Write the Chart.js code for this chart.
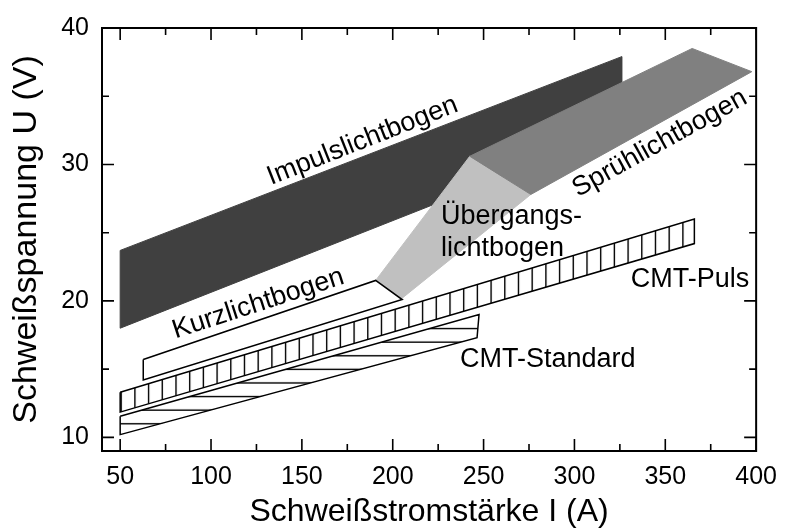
<!DOCTYPE html>
<html>
<head>
<meta charset="utf-8">
<script src="https://cdn.jsdelivr.net/npm/chart.js@4/dist/chart.umd.min.js"></script>
<style>
html,body{margin:0;padding:0;background:#ffffff;}
#wrap{width:788px;height:528px;}
</style>
</head>
<body>
<div id="wrap"><canvas id="c" width="788" height="528"></canvas></div>
<script>
// ---- tick labels ----
const xTicks = [50, 100, 150, 200, 250, 300, 350, 400];
const yTicks = [10, 20, 30, 40];

// ---- regions (current I in A, voltage U in V), polygon vertices ----
const impulsI = [50, 50, 326, 326];
const impulsU = [18.0, 23.7, 37.9, 32.5];

const uebergangI = [190.6, 242.4, 276.0, 205.2];
const uebergangU = [21.5, 30.6, 27.8, 20.2];

const spruehI = [242.4, 364.8, 397.6, 276.0];
const spruehU = [30.6, 38.5, 36.8, 27.8];

const kurzI = [62.7, 190.6, 205.2, 62.7];
const kurzU = [15.7, 21.5, 20.1, 14.2];

const pulsI = [50, 366, 366, 50];
const pulsU = [13.3, 26.0, 24.2, 11.85];

const standardI = [50, 247.5, 246.4, 50];
const standardU = [11.55, 19.0, 17.3, 10.2];

// ---- region labels ----
const labelText = ['Impulslichtbogen', 'Sprühlichtbogen', 'Kurzlichtbogen', 'Übergangs-', 'lichtbogen', 'CMT-Puls', 'CMT-Standard'];
const labelI = [133.0, 302.0, 80.5, 226.5, 226.5, 331.0, 237.0];
const labelU = [28.5, 27.6, 17.25, 25.63, 23.31, 21.04, 15.14];
const labelAngle = [21.5, 29, 18, 0, 0, 0, 0];

// ---- hatch styles ----
const HATCH_V_START = 58.1, HATCH_V_STEP = 7.53;  // vertical lines (A)
const HATCH_H_START = 11, HATCH_H_STEP = 1;       // horizontal lines (V)

const FONT = '"Liberation Sans", Arial, Helvetica, sans-serif';
Chart.defaults.font.family = FONT;
Chart.defaults.color = '#000000';

function poly(I, U, close) {
  const pts = I.map((v, i) => ({x: v, y: U[i]}));
  if (close) pts.push({x: I[0], y: U[0]});
  return pts;
}

const patCache = {};
function hatch(chart, dir) {
  const xs = chart.scales && chart.scales.x, ys = chart.scales && chart.scales.y;
  const a = chart.chartArea;
  if (!a || !xs || !ys) return '#ffffff';
  const key = dir + '|' + a.left + '|' + a.top + '|' + a.right + '|' + a.bottom;
  if (patCache[key]) return patCache[key];
  const c = document.createElement('canvas');
  const g = c.getContext('2d');
  let p;
  if (dir === 'v') {
    const step = Math.abs(xs.getPixelForValue(HATCH_V_START + HATCH_V_STEP) - xs.getPixelForValue(HATCH_V_START));
    const W = Math.round(step * 10);
    c.width = W; c.height = 8;
    g.fillStyle = '#ffffff'; g.fillRect(0, 0, W, 8);
    g.fillStyle = '#000000';
    for (let k = 0; k < 10; k++) { const cx = (k + 0.5) * W / 10; g.fillRect(cx - 0.7, 0, 1.4, 8); }
    p = chart.ctx.createPattern(c, 'repeat');
    const off = xs.getPixelForValue(HATCH_V_START) - 0.5 * W / 10;
    const t = ((off % W) + W) % W;
    p.setTransform(new DOMMatrix().translate(t, 0));
  } else {
    const step = Math.abs(ys.getPixelForValue(HATCH_H_START + HATCH_H_STEP) - ys.getPixelForValue(HATCH_H_START));
    const H = Math.round(step * 10);
    c.width = 8; c.height = H;
    g.fillStyle = '#ffffff'; g.fillRect(0, 0, 8, H);
    g.fillStyle = '#000000';
    for (let k = 0; k < 10; k++) { const cy = (k + 0.5) * H / 10; g.fillRect(0, cy - 0.7, 8, 1.4); }
    p = chart.ctx.createPattern(c, 'repeat');
    const off = ys.getPixelForValue(HATCH_H_START) - 0.5 * H / 10;
    const t = ((off % H) + H) % H;
    p.setTransform(new DOMMatrix().translate(0, t));
  }
  patCache[key] = p;
  return p;
}

const decor = {
  id: 'decor',
  afterDatasetsDraw(chart) {
    const {ctx, chartArea: a, scales: {x, y}} = chart;
    ctx.save();
    // labels
    ctx.fillStyle = '#000000';
    ctx.font = '27px ' + FONT;
    ctx.textAlign = 'left';
    ctx.textBaseline = 'alphabetic';
    labelText.forEach((t, i) => {
      ctx.save();
      ctx.translate(x.getPixelForValue(labelI[i]), y.getPixelForValue(labelU[i]));
      ctx.rotate(-labelAngle[i] * Math.PI / 180);
      ctx.fillText(t, 0, 0);
      ctx.restore();
    });
    // frame
    ctx.strokeStyle = '#000000';
    ctx.lineWidth = 2;
    ctx.strokeRect(a.left, a.top, a.right - a.left, a.bottom - a.top);
    // ticks (inward, all four sides)
    ctx.lineWidth = 1.6;
    const minorX = xTicks.slice(0, -1).map((v, i) => (v + xTicks[i + 1]) / 2);
    const minorY = yTicks.slice(0, -1).map((v, i) => (v + yTicks[i + 1]) / 2);
    const drawX = (vals, len) => vals.forEach(v => {
      const px = x.getPixelForValue(v);
      ctx.beginPath();
      ctx.moveTo(px, a.bottom); ctx.lineTo(px, a.bottom - len);
      ctx.moveTo(px, a.top); ctx.lineTo(px, a.top + len);
      ctx.stroke();
    });
    const drawY = (vals, len) => vals.forEach(v => {
      const py = y.getPixelForValue(v);
      ctx.beginPath();
      ctx.moveTo(a.left, py); ctx.lineTo(a.left + len, py);
      ctx.moveTo(a.right, py); ctx.lineTo(a.right - len, py);
      ctx.stroke();
    });
    drawX(xTicks, 12); drawX(minorX, 7);
    drawY(yTicks, 12); drawY(minorY, 7);
    ctx.restore();
  }
};

const base = {type: 'scatter', showLine: true, pointRadius: 0, pointHoverRadius: 0, tension: 0, fill: 'shape'};

const chart = new Chart(document.getElementById('c'), {
  type: 'scatter',
  data: {
    datasets: [
      Object.assign({}, base, {label: 'Impulslichtbogen', data: poly(impulsI, impulsU, true), backgroundColor: '#404040', borderColor: '#404040', borderWidth: 1, order: 6}),
      Object.assign({}, base, {label: 'Übergangslichtbogen', data: poly(uebergangI, uebergangU, true), backgroundColor: '#c0c0c0', borderColor: '#c0c0c0', borderWidth: 1, order: 5}),
      Object.assign({}, base, {label: 'Sprühlichtbogen', data: poly(spruehI, spruehU, true), backgroundColor: '#808080', borderColor: '#808080', borderWidth: 1, order: 4}),
      Object.assign({}, base, {label: 'Kurzlichtbogen', data: poly(kurzI, kurzU, true), backgroundColor: '#ffffff', borderColor: '#000000', borderWidth: 1.5, order: 3}),
      Object.assign({}, base, {label: 'CMT-Puls', data: poly(pulsI, pulsU, true), backgroundColor: (c) => hatch(c.chart, 'v'), borderColor: '#000000', borderWidth: 1.5, order: 2}),
      Object.assign({}, base, {label: 'CMT-Standard', data: poly(standardI, standardU, true), backgroundColor: (c) => hatch(c.chart, 'h'), borderColor: '#000000', borderWidth: 1.5, order: 1})
    ]
  },
  options: {
    responsive: false,
    animation: false,
    devicePixelRatio: 1,
    layout: {padding: {left: 0, right: 25, top: 27, bottom: 0}},
    plugins: {legend: {display: false}, tooltip: {enabled: false}},
    events: [],
    scales: {
      x: {
        type: 'linear', position: 'bottom', min: 40, max: 400,
        afterBuildTicks: (s) => { s.ticks = xTicks.map(v => ({value: v})); },
        afterFit: (s) => { s.height = 77; },
        grid: {display: false, drawTicks: false},
        border: {display: false},
        ticks: {font: {size: 25}, color: '#000000', padding: 11, autoSkip: false, maxRotation: 0, minRotation: 0},
        title: {display: true, text: 'Schweißstromstärke I (A)', font: {size: 32, lineHeight: 1}, color: '#000000', padding: {top: 0, bottom: 0}}
      },
      y: {
        type: 'linear', position: 'left', min: 9, max: 40,
        afterBuildTicks: (s) => { s.ticks = yTicks.map(v => ({value: v})); },
        afterFit: (s) => { s.width = 102; },
        grid: {display: false, drawTicks: false},
        border: {display: false},
        ticks: {font: {size: 25}, color: '#000000', padding: 13, autoSkip: false},
        title: {display: true, text: 'Schweißspannung U (V)', font: {size: 34, lineHeight: 1}, color: '#000000', padding: {top: 10, bottom: 0}}
      }
    }
  },
  plugins: [decor]
});
</script>
</body>
</html>
